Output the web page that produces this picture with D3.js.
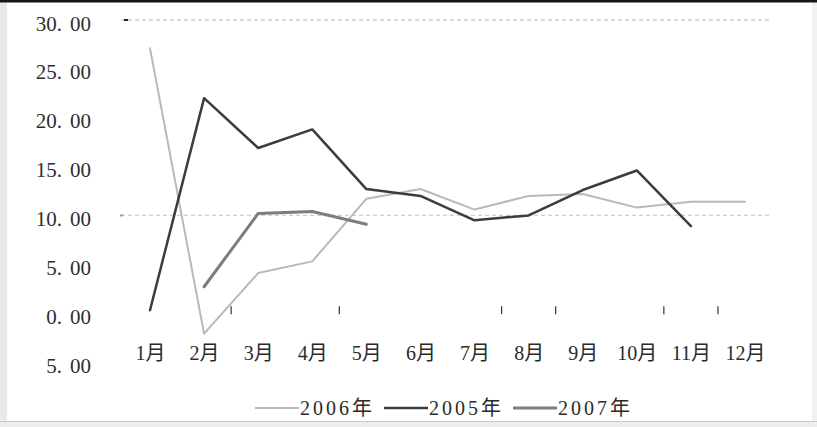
<!DOCTYPE html>
<html>
<head>
<meta charset="utf-8">
<script src="https://cdn.jsdelivr.net/npm/d3@7"></script>
<style>
  html, body { margin: 0; padding: 0; background: #fff; }
  svg { display: block; }
  text { font-family: "Liberation Serif", "Noto Sans CJK SC", serif; fill: #2a2a2a; }
</style>
</head>
<body>
<svg id="chart" width="817" height="427"></svg>
<script>
// Months along the x axis
const months = ["1月", "2月", "3月", "4月", "5月", "6月", "7月", "8月", "9月", "10月", "11月", "12月"];

// Monthly values per year (null = no data)
const values2006 = [27.1, -2.1, 4.1, 5.3, 11.7, 12.7, 10.6, 12.0, 12.2, 10.8, 11.4, 11.4];
const values2005 = [0.3, 22.0, 16.9, 18.8, 12.7, 12.0, 9.5, 10.0, 12.6, 14.6, 8.9, null];
const values2007 = [null, 2.7, 10.2, 10.4, 9.1, null, null, null, null, null, null, null];

const seriesNames = ["2006年", "2005年", "2007年"];
const seriesColors = ["#b9b9b9", "#3c3c3c", "#7d7d7d"];
const seriesWidths = [2, 2.5, 3];

// Y axis ticks and their printed labels
const yTicks = [30, 25, 20, 15, 10, 5, 0, -5];
const yTickLabels = ["30.00", "25.00", "20.00", "15.00", "10.00", "5.00", "0.00", "5.00"];
// Dashed reference lines
const gridValues = [30, 10];
// Category boundaries that carry a small tick (index of the month before it)
const boundaryTicks = [1, 3, 6, 7, 9, 10];

const svg = d3.select("#chart");
const W = 817, H = 427;

// Frame: dark top rule, light side strips and bottom edge
svg.append("rect").attr("x", 0).attr("y", 0).attr("width", W).attr("height", H).attr("fill", "#fff");
svg.append("rect").attr("x", 0).attr("y", 0).attr("width", 7).attr("height", H).attr("fill", "#e9e9e9");
svg.append("rect").attr("x", W - 5).attr("y", 0).attr("width", 5).attr("height", H).attr("fill", "#f1f1f1");
svg.append("rect").attr("x", 0).attr("y", 421).attr("width", W).attr("height", 6).attr("fill", "#eeeeee");
svg.append("line").attr("x1", 0).attr("x2", W).attr("y1", 421.5).attr("y2", 421.5)
  .attr("stroke", "#c9c9c9").attr("stroke-width", 1);
svg.append("rect").attr("x", 0).attr("y", 0).attr("width", W).attr("height", 2.5).attr("fill", "#151515");

const x = d3.scalePoint().domain(months).range([150, 745]);
const y = d3.scaleLinear().domain([-5, 30]).range([362, 20]);

// Dashed horizontal reference lines
const grid = svg.append("g");
grid.selectAll("line.grid").data(gridValues).join("line")
  .attr("class", "grid")
  .attr("x1", 121).attr("x2", 771)
  .attr("y1", d => y(d)).attr("y2", d => y(d))
  .attr("stroke", "#cfcfcf").attr("stroke-width", 1.3)
  .attr("stroke-dasharray", "4,3");
grid.selectAll("line.cap").data(gridValues).join("line")
  .attr("class", "cap")
  .attr("x1", d => d === 30 ? 124 : 120).attr("x2", d => d === 30 ? 128 : 123)
  .attr("y1", d => y(d)).attr("y2", d => y(d))
  .attr("stroke", d => d === 30 ? "#222" : "#999").attr("stroke-width", 2);

// Y axis labels (no axis line), decimal point set slightly apart
const yAxis = d3.axisLeft(y).tickValues(yTicks).tickSize(0).tickFormat(() => "");
const yg = svg.append("g").attr("transform", "translate(91,0)").call(yAxis);
yg.select(".domain").remove();
yg.selectAll(".tick text").remove();
yg.selectAll(".tick").each(function (d, i) {
  const parts = yTickLabels[i].split(".");
  const t = d3.select(this).append("text")
    .attr("x", 0).attr("y", 10)
    .attr("text-anchor", "end")
    .style("font-size", "21px")
    .style("fill", "#2e2e2e");
  t.append("tspan").text(parts[0] + ".");
  t.append("tspan").attr("dx", 8).text(parts[1]);
});

// X axis category labels
const xAxis = d3.axisBottom(x).tickSize(0).tickPadding(0);
const xg = svg.append("g").attr("transform", "translate(0,345)").call(xAxis);
xg.select(".domain").remove();
xg.selectAll(".tick text")
  .attr("y", 15).attr("dy", 0)
  .style("font-size", "20px")
  .style("font-family", "'Liberation Serif', 'Noto Sans CJK SC', serif")
  .style("fill", "#2a2a2a");

// Small ticks between some categories along the zero line
const step = x.step();
svg.append("g").selectAll("line").data(boundaryTicks).join("line")
  .attr("x1", d => x(months[d]) + step / 2).attr("x2", d => x(months[d]) + step / 2)
  .attr("y1", y(0) - 7).attr("y2", y(0) + 1)
  .attr("stroke", "#333").attr("stroke-width", 1.2);

// Series lines
const allSeries = [values2006, values2005, values2007];
const line = d3.line()
  .defined(d => d.v !== null)
  .x(d => x(d.m))
  .y(d => y(d.v));

svg.append("g").selectAll("path").data(allSeries).join("path")
  .attr("d", vals => line(vals.map((v, i) => ({ m: months[i], v }))))
  .attr("fill", "none")
  .attr("stroke", (d, i) => seriesColors[i])
  .attr("stroke-width", (d, i) => seriesWidths[i])
  .attr("stroke-linejoin", "round")
  .attr("stroke-linecap", "round");

// Legend
const legend = svg.append("g").attr("transform", "translate(255,408)");
const items = legend.selectAll("g").data(seriesNames).join("g")
  .attr("transform", (d, i) => `translate(${i * 129},0)`);
items.append("line")
  .attr("x1", 0).attr("x2", 44).attr("y1", 0).attr("y2", 0)
  .attr("stroke", (d, i) => seriesColors[i])
  .attr("stroke-width", (d, i) => seriesWidths[i]);
items.append("text")
  .attr("x", 45).attr("y", 7)
  .style("font-size", "20px")
  .style("letter-spacing", "3px")
  .text(d => d);
</script>
</body>
</html>
